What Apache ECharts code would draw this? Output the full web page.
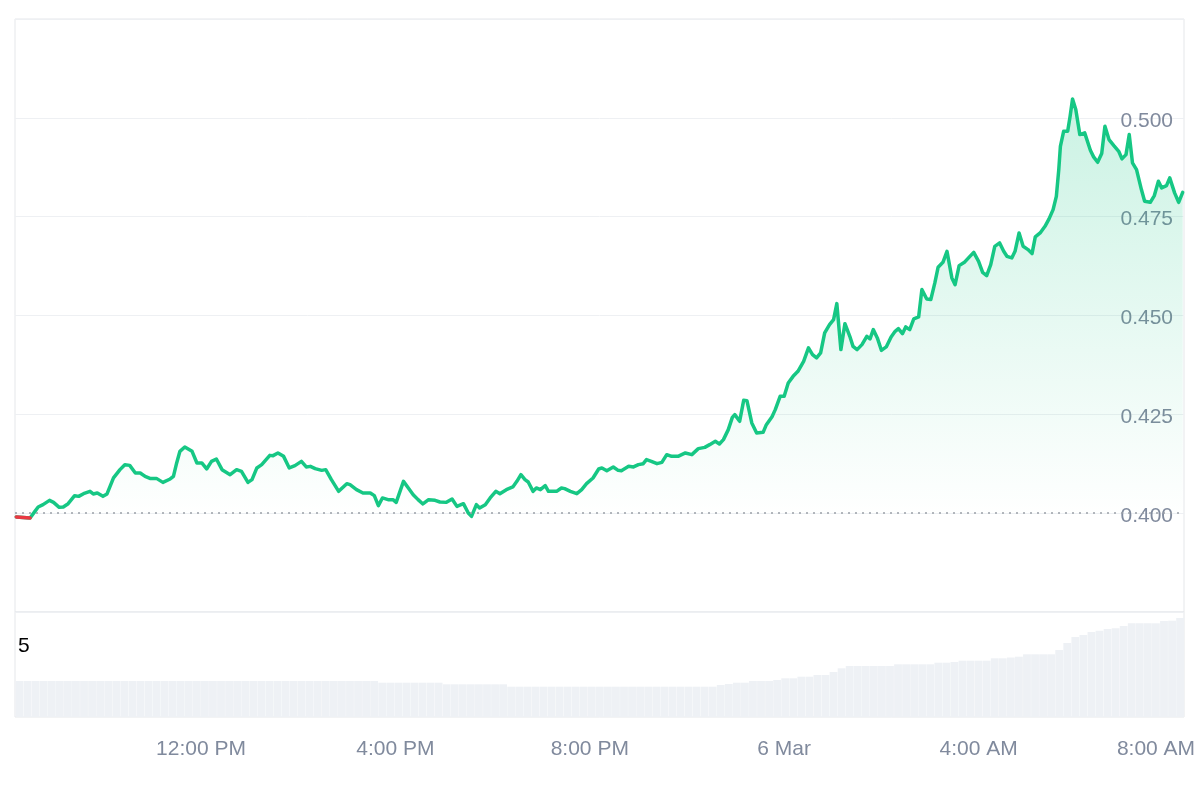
<!DOCTYPE html>
<html>
<head>
<meta charset="utf-8">
<script src="https://cdn.jsdelivr.net/npm/echarts@6/dist/echarts.min.js"></script>
<style>
  html, body { margin: 0; padding: 0; background: #ffffff; }
  #chart { width: 1200px; height: 800px; }
</style>
</head>
<body>
<div id="chart"></div>
<script>
// Time values are minutes since 5 Mar 00:00
const priceMinutes = [
  492,509,515,519,525,533,538,545,550,556,564,569,575,583,587,592,599,604,612,620,626,632,639,645,651,657,665,673,682,686,690,694,700,709,715,721,
  727,733,739,746,756,764,770,778,783,789,795,805,809,815,822,829,836,844,850,855,861,869,874,881,890,900,904,912,920,929,934,939,944,951,957,961,
  970,976,982,988,994,1001,1009,1015,1023,1030,1036,1044,1050,1054,1060,1064,1071,1077,1084,1089,1097,1105,1110,1115,1120,1124,1130,1134,1139,1145,1149,1159,1165,1169,1176,1184,1190,
  1196,1204,1211,1215,1221,1229,1235,1239,1248,1254,1260,1266,1270,1276,1283,1289,1295,1301,1309,1318,1326,1334,1342,1348,1355,1360,1365,1371,1376,1379,1385,1390,1394,1400,1406,1414,1418,
  1425,1429,1435,1440,1445,1451,1457,1464,1470,1475,1480,1485,1490,1496,1501,1505,1510,1515,1521,1525,1530,1536,1542,1546,1550,1555,1560,1566,1572,1577,1581,1586,1590,1595,1600,1606,
  1610,1616,1621,1626,1630,1636,1641,1647,1651,1656,1663,1669,1674,1680,1685,1690,1695,1700,1706,1711,1715,1721,1725,1730,1735,1741,1746,1750,1756,1762,1767,1772,1776,1779,1781,1785,1790,1793,1796,1800,1805,1811,1818,1822,1827,1832,1836,1841,1847,1853,1857,1862,1866,1870,1875,1881,1885,1892,1897,1902,1906,1912,1916,1922,1927,1932
];
const prices = [
  0.39904,0.39879,0.40046,0.40157,0.40215,0.40324,0.40273,0.40147,0.40157,0.40240,0.40443,0.40425,0.40493,0.40552,0.40486,0.40511,0.40425,0.40486,0.40891,0.41101,0.41227,0.41209,0.41017,0.41017,0.40931,0.40880,0.40880,0.40779,0.40865,0.40931,0.41270,0.41564,0.41675,0.41564,0.41270,0.41270,
  0.41118,0.41311,0.41371,0.41101,0.40974,0.41101,0.41058,0.40779,0.40848,0.41144,0.41227,0.41462,0.41455,0.41523,0.41437,0.41144,0.41202,0.41311,0.41169,0.41184,0.41126,0.41083,0.41101,0.40848,0.40552,0.40746,0.40721,0.40595,0.40511,0.40511,0.40443,0.40190,0.40385,0.40342,0.40342,0.40273,
  0.40805,0.40638,0.40468,0.40342,0.40233,0.40342,0.40324,0.40283,0.40273,0.40359,0.40172,0.40240,0.40005,0.39919,0.40215,0.40132,0.40215,0.40385,0.40552,0.40493,0.40595,0.40663,0.40805,0.40974,0.40848,0.40789,0.40552,0.40638,0.40595,0.40696,0.40552,0.40552,0.40638,0.40620,0.40552,0.40493,0.40595,
  0.40746,0.40891,0.41118,0.41144,0.41075,0.41169,0.41083,0.41075,0.41184,0.41169,0.41227,0.41252,0.41354,0.41311,0.41252,0.41285,0.41480,0.41437,0.41437,0.41523,0.41480,0.41632,0.41665,0.41733,0.41817,0.41751,0.41860,0.42113,0.42424,0.42492,0.42323,0.42854,0.42846,0.42282,0.42029,0.42044,0.42239,
  0.42441,0.42619,0.42955,0.42955,0.43294,0.43461,0.43588,0.43840,0.44180,0.44010,0.43927,0.44053,0.44559,0.44769,0.44896,0.45300,0.44137,0.44794,0.44473,0.44220,0.44137,0.44263,0.44473,0.44407,0.44643,0.44433,0.44119,0.44205,0.44458,0.44600,0.44668,0.44541,0.44711,0.44643,0.44913,0.44964,
  0.45655,0.45419,0.45402,0.45824,0.46219,0.46345,0.46624,0.45951,0.45781,0.46262,0.46355,0.46489,0.46598,0.46371,0.46092,0.46009,0.46287,0.46750,0.46836,0.46624,0.46497,0.46457,0.46624,0.47089,0.46750,0.46667,0.46565,0.46988,0.47089,0.47256,0.47443,0.47679,0.48015,0.48691,0.49280,0.49660,0.49660,0.50039,0.50479,0.50209,0.49576,0.49619,0.49179,0.49012,0.48875,0.49095,0.49786,0.49450,0.49298,0.49154,0.48961,0.49070,0.49576,0.48860,0.48691,0.48185,0.47889,0.47863,0.48033,0.48395,0.48228,0.48286,0.48481,0.48101,0.47863,0.48116
];
const baselinePrice = 0.3992;
// number of leading points that sit below the opening price (drawn red)
const belowBaselineCount = 2;

// Volume bars: one per ~10 minutes starting 08:16 on 5 Mar (arbitrary units)
const volumeStartMinute = 496;
const volumeStepMinutes = 9.95;
const volumes = [
  36,36,36,36,36,36,36,36,36,36,36,36,36,36,36,36,36,36,36,36,36,36,36,36,36,36,36,36,36,36,36,36,36,36,36,36,36,36,36,36,36,36,36,36,36,
  34.3,34.3,34.3,34.3,34.3,34.3,34.3,34.3,
  32.7,32.7,32.7,32.7,32.7,32.7,32.7,32.7,
  30.3,30.3,30.3,30.3,30.3,30.3,30.3,30.3,30.3,30.3,30.3,30.3,30.3,30.3,30.3,30.3,30.3,30.3,30.3,30.3,30.3,30.3,30.3,30.3,30.3,30.3,
  32,33,34.3,34.3,36,36,36,37,38.7,38.7,40.3,40.3,42,42,45,48.7,
  51,51,51,51,51,51,52.7,52.7,52.7,52.7,52.7,54.3,54.3,55,56.3,56.3,56.3,56.3,58.7,58.7,59.5,60.3,
  62.7,62.7,62.7,62.7,67,74,80,82,85,86.3,88,88.7,91,93.7,93.7,93.7,93.7,96,96.3,99
];

const xTickValues = [720, 960, 1200, 1440, 1680, 1920];
const xTickLabels = ['12:00 PM', '4:00 PM', '8:00 PM', '6 Mar', '4:00 AM', '8:00 AM'];
const yTickLabels = ['0.400', '0.425', '0.450', '0.475', '0.500'];
const volumeAxisText = '5';

const priceData = [];
for (let i = 0; i < Math.min(priceMinutes.length, prices.length); i++) {
  priceData.push([priceMinutes[i], prices[i]]);
}
const redData = priceData.slice(0, belowBaselineCount);
const volumeData = volumes.map((v, i) => [volumeStartMinute + i * volumeStepMinutes, v]);

const X_MIN = 490.4, X_MAX = 1933.6;
const FONT = "'Liberation Sans', Arial, Helvetica, sans-serif";
const labelColor = '#808a9d';

const chart = echarts.init(document.getElementById('chart'), null, { renderer: 'canvas' });
chart.setOption({
  animation: false,
  backgroundColor: '#ffffff',
  textStyle: { fontFamily: FONT },
  grid: [
    { left: 15, right: 16, top: 19, height: 593, show: true, borderColor: '#e5e7ea', borderWidth: 1 },
    { left: 15, right: 16, top: 612, height: 105, show: true, borderColor: '#e5e7ea', borderWidth: 1 }
  ],
  xAxis: [
    { type: 'value', gridIndex: 0, min: X_MIN, max: X_MAX, show: false },
    {
      type: 'value', gridIndex: 1, min: X_MIN, max: X_MAX,
      axisLine: { show: false }, axisTick: { show: false }, splitLine: { show: false },
      axisLabel: {
        customValues: xTickValues,
        margin: 22,
        fontSize: 21,
        color: labelColor,
        fontFamily: FONT,
        formatter: function (v) {
          const idx = xTickValues.indexOf(Math.round(v));
          if (idx < 0) return '';
          if (idx === xTickValues.length - 1) return '{last|' + xTickLabels[idx] + '}';
          return xTickLabels[idx];
        },
        rich: {
          last: { fontSize: 21, color: labelColor, fontFamily: FONT, padding: [0, 34, 0, 0] }
        }
      }
    }
  ],
  yAxis: [
    {
      type: 'value', gridIndex: 0, position: 'right',
      min: 0.375, max: 0.525, interval: 0.025,
      axisLine: { show: false }, axisTick: { show: false },
      splitLine: { show: true, lineStyle: { color: '#eef0f3', width: 1 } },
      axisLabel: {
        inside: true, margin: 11, fontSize: 21, color: labelColor, fontFamily: FONT,
        showMinLabel: false, showMaxLabel: false,
        formatter: function (v) {
          const s = v.toFixed(3);
          return yTickLabels.indexOf(s) >= 0 ? '{v|' + s + '}' : '';
        },
        rich: {
          v: { fontSize: 21, color: labelColor, fontFamily: FONT, padding: [6, 0, 0, 0] }
        }
      }
    },
    {
      type: 'value', gridIndex: 1, min: 0, max: 105, show: false
    }
  ],
  graphic: [
    {
      type: 'text', left: 18, top: 636,
      style: { text: volumeAxisText, fontSize: 21, fill: '#000000', fontFamily: FONT }
    }
  ],
  series: [
    {
      type: 'line', xAxisIndex: 0, yAxisIndex: 0,
      data: priceData,
      showSymbol: false, smooth: false,
      lineStyle: { width: 3.5, color: '#16c784', join: 'round', cap: 'round' },
      itemStyle: { color: '#16c784' },
      areaStyle: {
        origin: baselinePrice,
        color: new echarts.graphic.LinearGradient(0, 0, 0, 1, [
          { offset: 0, color: 'rgba(22,199,132,0.32)' },
          { offset: 1, color: 'rgba(22,199,132,0.0)' }
        ])
      },
      markLine: {
        silent: true, symbol: ['none', 'none'],
        label: { show: false },
        lineStyle: { color: '#9aa0a8', type: [2, 5], width: 1.5 },
        data: [{ yAxis: baselinePrice }]
      },
      z: 3
    },
    {
      type: 'line', xAxisIndex: 0, yAxisIndex: 0,
      data: redData,
      showSymbol: false, smooth: false,
      lineStyle: { width: 3.5, color: '#ea3943', cap: 'round' },
      itemStyle: { color: '#ea3943' },
      z: 4
    },
    {
      type: 'bar', xAxisIndex: 1, yAxisIndex: 1,
      data: volumeData,
      barWidth: 7.8,
      itemStyle: { color: '#eef1f5' },
      z: 1
    }
  ]
});
</script>
</body>
</html>
